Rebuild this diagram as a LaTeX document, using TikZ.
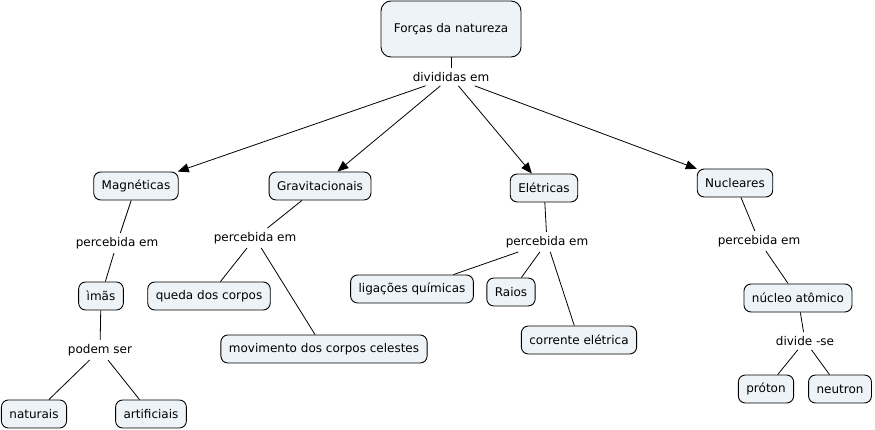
\documentclass[tikz,border=0pt]{standalone}
\usepackage{fontspec}
\setmainfont{DejaVu Sans}
\usetikzlibrary{arrows.meta}
\definecolor{cfill}{RGB}{237,243,246}
\tikzset{
  concept/.style={draw=black, fill=cfill, rounded corners=7pt, line width=0.9pt,
    inner xsep=8pt, minimum height=28pt, font=\fontsize{12}{14}\selectfont},
  phrase/.style={inner sep=4pt, font=\fontsize{12}{14}\selectfont},
  conn/.style={draw=black, line width=0.8pt},
  arr/.style={conn, -{Triangle[length=11pt,width=9pt]}}
}
\begin{document}
\begin{tikzpicture}[x=1pt,y=-1pt]
\useasboundingbox (0,0) rectangle (875,430);
\node[concept, minimum width=140pt, minimum height=56pt, rounded corners=10pt] (root) at (451,29) {Forças da natureza};
\node[phrase] (div) at (451,77) {divididas em};

\node[concept] (mag) at (136,186) {Magnéticas};
\node[concept] (grav) at (320,186) {Gravitacionais};
\node[concept] (ele) at (544,188) {Elétricas};
\node[concept] (nuc) at (735,183) {Nucleares};

\node[phrase] (pm) at (117,243) {percebida em};
\node[concept] (imas) at (101,296) {ìmãs};
\node[phrase] (ps) at (100,350) {podem ser};
\node[concept] (nat) at (34,414) {naturais};
\node[concept] (art) at (151,414) {artificiais};

\node[phrase] (pg) at (255,238) {percebida em};
\node[concept] (queda) at (209,296) {queda dos corpos};
\node[concept] (mov) at (324,349) {movimento dos corpos celestes};

\node[phrase] (pe) at (547,242) {percebida em};
\node[concept] (lig) at (412,289) {ligações químicas};
\node[concept] (raios) at (511,292) {Raios};
\node[concept] (cor) at (579,340) {corrente elétrica};

\node[phrase] (pn) at (759,241) {percebida em};
\node[concept] (nucl) at (798,298) {núcleo atômico};
\node[phrase] (ds) at (805,341) {divide -se};
\node[concept] (prot) at (766,389) {próton};
\node[concept] (neut) at (840,389) {neutron};

\draw[conn] (root) -- (div);
\draw[arr] (div) -- (mag);
\draw[arr] (div) -- (grav);
\draw[arr] (div) -- (ele);
\draw[arr] (div) -- (nuc);

\draw[conn] (mag) -- (pm);
\draw[conn] (pm) -- (imas);
\draw[conn] (imas) -- (ps);
\draw[conn] (ps) -- (nat);
\draw[conn] (ps) -- (art);

\draw[conn] (grav) -- (pg);
\draw[conn] (pg) -- (queda);
\draw[conn] (pg) -- (mov);

\draw[conn] (ele) -- (pe);
\draw[conn] (pe) -- (lig);
\draw[conn] (pe) -- (raios);
\draw[conn] (pe) -- (cor);

\draw[conn] (nuc) -- (pn);
\draw[conn] (pn) -- (nucl);
\draw[conn] (nucl) -- (ds);
\draw[conn] (ds) -- (prot);
\draw[conn] (ds) -- (neut);
\end{tikzpicture}
\end{document}
